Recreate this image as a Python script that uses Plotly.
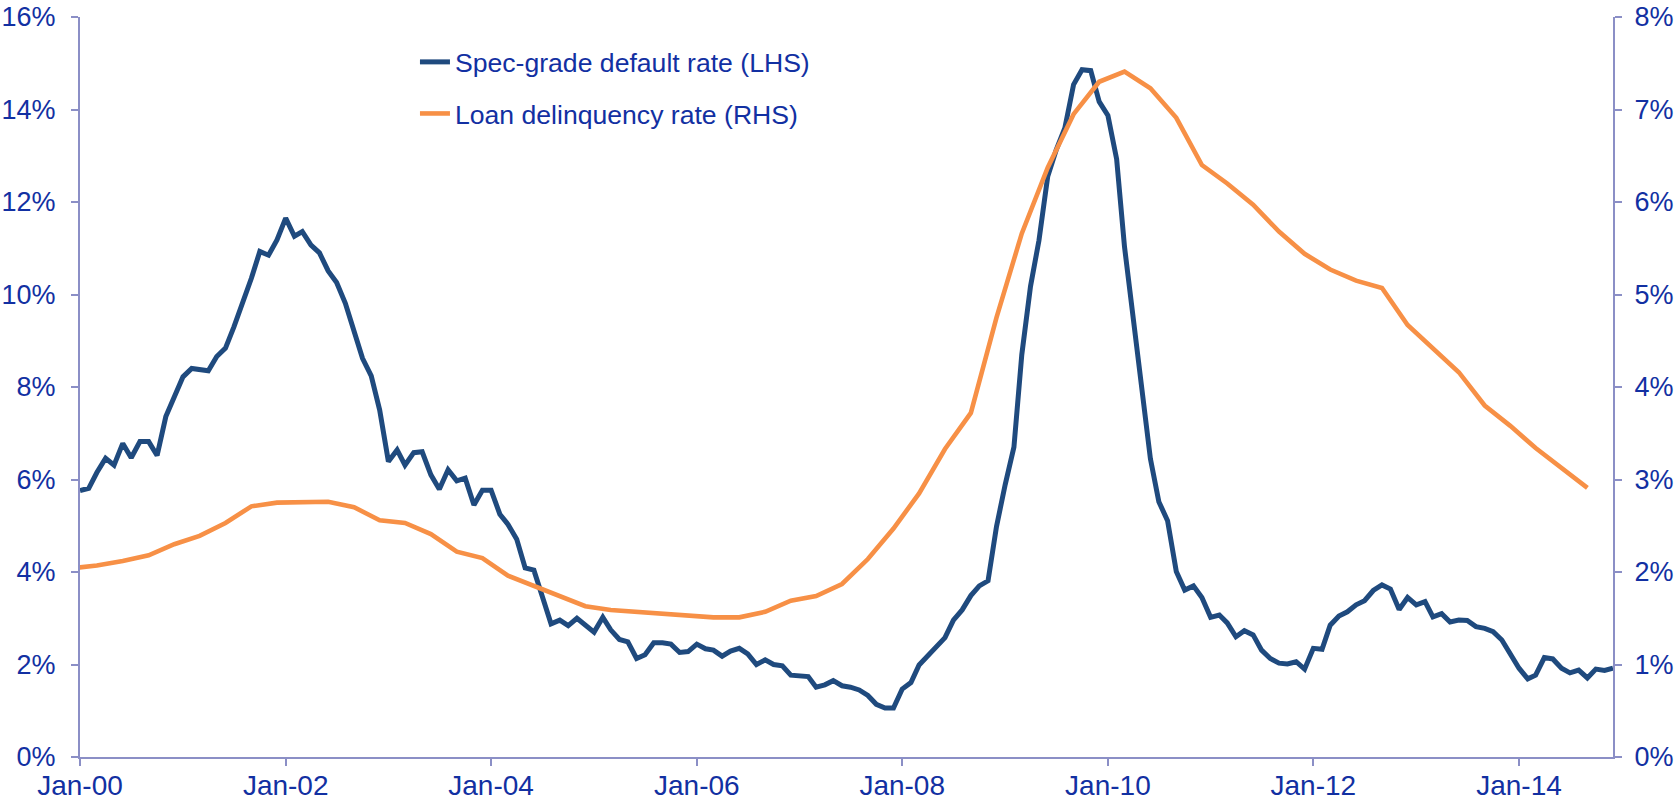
import plotly.graph_objects as go
import pandas as pd

# Monthly speculative-grade default rate (LHS, %), Jan-2000 .. Dec-2014
default_start = "2000-01-01"
default_rate = [
    5.76, 5.81, 6.15, 6.46, 6.31, 6.78, 6.47, 6.82, 6.82, 6.52, 7.36, 7.79,   # 2000
    8.22, 8.40, 8.37, 8.35, 8.66, 8.84, 9.30, 9.81, 10.35, 10.93, 10.85, 11.18,  # 2001
    11.65, 11.26, 11.36, 11.07, 10.90, 10.51, 10.26, 9.81, 9.23, 8.62, 8.24, 7.50,  # 2002
    6.39, 6.64, 6.31, 6.58, 6.60, 6.10, 5.79, 6.21, 5.97, 6.03, 5.45, 5.77,   # 2003
    5.77, 5.25, 5.03, 4.71, 4.09, 4.04, 3.47, 2.88, 2.96, 2.84, 3.00, 2.84,   # 2004
    2.70, 3.02, 2.75, 2.54, 2.49, 2.13, 2.21, 2.47, 2.47, 2.44, 2.26, 2.28,   # 2005
    2.44, 2.34, 2.31, 2.18, 2.29, 2.35, 2.23, 2.00, 2.10, 2.00, 1.97, 1.77,   # 2006
    1.76, 1.74, 1.51, 1.56, 1.65, 1.54, 1.51, 1.45, 1.33, 1.14, 1.06, 1.06,   # 2007
    1.47, 1.61, 1.99, 2.20, 2.39, 2.58, 2.96, 3.18, 3.49, 3.70, 3.81, 4.98,   # 2008
    5.89, 6.70, 8.70, 10.18, 11.17, 12.55, 13.12, 13.60, 14.54, 14.86, 14.84, 14.17,  # 2009
    13.87, 12.93, 11.03, 9.41, 7.89, 6.45, 5.52, 5.11, 4.01, 3.61, 3.70, 3.45,  # 2010
    3.02, 3.07, 2.90, 2.60, 2.73, 2.64, 2.31, 2.13, 2.03, 2.01, 2.06, 1.90,   # 2011
    2.35, 2.33, 2.85, 3.05, 3.14, 3.29, 3.38, 3.60, 3.72, 3.63, 3.19, 3.45,   # 2012
    3.29, 3.36, 3.03, 3.10, 2.92, 2.96, 2.95, 2.82, 2.78, 2.71, 2.53, 2.24,   # 2013
    1.92, 1.69, 1.77, 2.15, 2.12, 1.92, 1.82, 1.88, 1.71, 1.90, 1.87, 1.92,   # 2014
]

# Quarterly loan delinquency rate (RHS, %), Dec-1999 .. Sep-2014
delinq_start = "1999-12-01"
delinq_rate = [
    2.04, 2.07, 2.12, 2.18, 2.30, 2.39, 2.53, 2.71, 2.75, 2.76,
    2.76, 2.70, 2.56, 2.53, 2.41, 2.22, 2.15, 1.96, 1.85, 1.74,
    1.63, 1.59, 1.57, 1.56, 1.54, 1.51, 1.51, 1.57, 1.69, 1.74,
    1.87, 2.14, 2.47, 2.85, 3.33, 3.72, 4.75, 5.66, 6.37, 6.95,
    7.30, 7.41, 7.23, 6.91, 6.40, 6.20, 5.97, 5.68, 5.44, 5.27,
    5.15, 5.07, 4.67, 4.41, 4.16, 3.80, 3.58, 3.34, 3.12, 2.91,
]

series_names = ["Spec-grade default rate (LHS)", "Loan delinquency rate (RHS)"]
x_range = ["2000-01-01", "2014-12-01"]
left_ticks = [0, 2, 4, 6, 8, 10, 12, 14, 16]
right_ticks = [0, 1, 2, 3, 4, 5, 6, 7, 8]

default_dates = pd.date_range(default_start, periods=len(default_rate), freq="MS")
delinq_dates = pd.date_range(delinq_start, periods=len(delinq_rate), freq="3MS")

TEXT = "#1230a2"
AXIS = "#8b8fc6"
FONT = "Liberation Sans, Arial, sans-serif"

fig = go.Figure()
fig.add_trace(go.Scatter(
    x=default_dates, y=default_rate, mode="lines", name=series_names[0],
    line=dict(color="#1f4a7e", width=5), legendgroup="a",
))
fig.add_trace(go.Scatter(
    x=delinq_dates, y=delinq_rate, mode="lines", name=series_names[1],
    line=dict(color="#f79046", width=4.6), legendgroup="b", yaxis="y2",
))

axis_common = dict(
    showgrid=False, zeroline=False, showline=True, linecolor=AXIS, linewidth=2,
    ticks="outside", ticklen=7, tickwidth=2, tickcolor=AXIS, automargin=False,
)
x_font = dict(family=FONT, size=28, color=TEXT)
y_font = dict(family=FONT, size=27, color=TEXT)

fig.update_layout(
    width=1675, height=808,
    margin=dict(l=80, r=62, t=17, b=51, autoexpand=False),
    paper_bgcolor="white", plot_bgcolor="white",
    font=dict(family=FONT, size=26.6, color=TEXT),
    xaxis=dict(type="date", range=x_range, dtick="M24", tick0="2000-01-01",
               tickformat="%b-%y", ticklabelstandoff=-5, tickfont=x_font,
               **axis_common),
    yaxis=dict(range=[0, 16], tickmode="array", tickvals=left_ticks,
               ticktext=[f"{v}%" for v in left_ticks], ticklabelstandoff=10,
               tickfont=y_font, **axis_common),
    yaxis2=dict(range=[0, 8], tickmode="array", tickvals=right_ticks,
                ticktext=[f"{v}%" for v in right_ticks], ticklabelstandoff=7,
                tickfont=y_font, overlaying="y", side="right", **axis_common),
    legend=dict(x=0.2185, y=0.9715, xanchor="left", yanchor="top",
                bgcolor="rgba(0,0,0,0)", tracegroupgap=14,
                font=dict(family=FONT, size=26.6, color=TEXT)),
    showlegend=True,
)

fig.write_html(
    "out.html",
    config={"displayModeBar": False},
    post_script="document.body.style.margin='0';document.body.style.overflow='hidden';",
)
